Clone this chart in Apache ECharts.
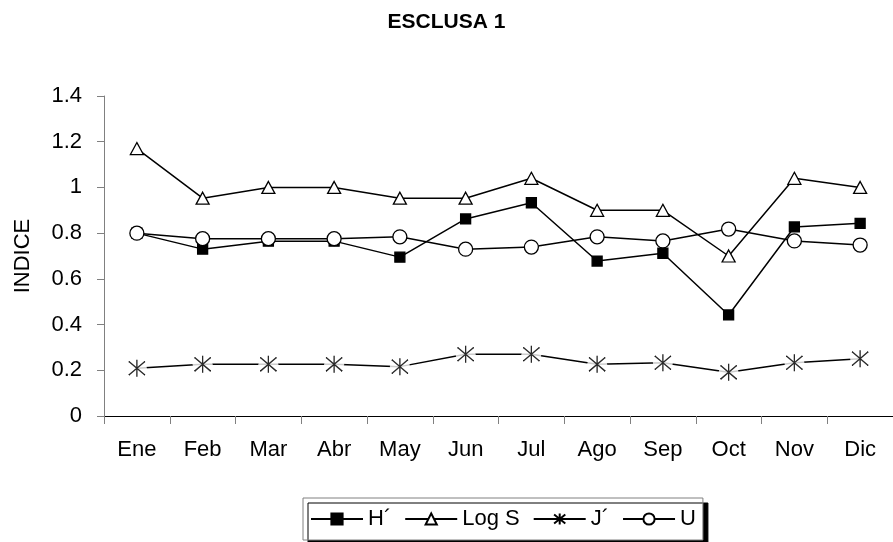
<!DOCTYPE html>
<html>
<head>
<meta charset="utf-8">
<script src="https://cdn.jsdelivr.net/npm/echarts@6/dist/echarts.min.js"></script>
<style>html,body{margin:0;padding:0;background:#fff}#c{width:893px;height:542px}</style>
</head>
<body>
<div id="c"></div>
<script>
var months = ['Ene','Feb','Mar','Abr','May','Jun','Jul','Ago','Sep','Oct','Nov','Dic'];
var hPrime = [0.80,0.73,0.765,0.765,0.695,0.862,0.933,0.678,0.712,0.442,0.827,0.843];
var logS   = [1.17,0.953,1.0,1.0,0.953,0.953,1.04,0.90,0.90,0.70,1.04,1.0];
var jPrime = [0.209,0.226,0.226,0.226,0.216,0.27,0.27,0.226,0.233,0.191,0.233,0.251];
var uIdx   = [0.80,0.776,0.776,0.776,0.784,0.73,0.739,0.784,0.766,0.818,0.766,0.748];
var yTicks = [0,0.2,0.4,0.6,0.8,1,1.2,1.4];

var FONT = '"Liberation Sans", Arial, sans-serif';
var STAR = 'path://M-1,-1L1,1M-1,1L1,-1M0,-1.25L0,1.25';
var chart = echarts.init(document.getElementById('c'), null, {renderer:'canvas'});
function mk(name, data, symbol, size, fill) {
  return {
    name: name, type: 'line', data: data,
    symbol: symbol, symbolSize: size,
    lineStyle: {color:'#000', width:1.5},
    itemStyle: {color: fill, borderColor:'#000', borderWidth:1.3},
    emphasis: {disabled:true},
    animation: false, z: 2
  };
}
chart.setOption({
  animation: false,
  title: {text:'ESCLUSA 1', left:'center', top:7,
    textStyle:{fontFamily:FONT, fontSize:21, fontWeight:'bold', color:'#000'}},
  grid: {left:104, top:96, bottom:126, right:-6, containLabel:false},
  legend: {
    left:303, top:498, padding:[10,7,10,7], itemGap:13,
    itemWidth:52, itemHeight:14,
    borderColor:'#808080', borderWidth:1, backgroundColor:'#fff',
    shadowColor:'#000', shadowOffsetX:5, shadowOffsetY:5, shadowBlur:0,
    textStyle:{fontFamily:FONT, fontSize:22, color:'#000'},
    data:['H´','Log S','J´','U']
  },
  xAxis: {
    type:'category', data: months, boundaryGap:true,
    axisLine:{lineStyle:{color:'#000', width:1}},
    axisTick:{show:true, length:8, lineStyle:{color:'#808080'}},
    axisLabel:{fontFamily:FONT, fontSize:22, color:'#000', margin:23},
    splitLine:{show:false}
  },
  yAxis: {
    type:'value', min:0, max:1.4, interval:0.2,
    name:'INDICE', nameLocation:'middle', nameGap:70, nameRotate:90,
    nameTextStyle:{fontFamily:FONT, fontSize:22, color:'#000'},
    axisLine:{show:true, lineStyle:{color:'#808080', width:1}},
    axisTick:{show:true, length:7, lineStyle:{color:'#808080'}},
    axisLabel:{fontFamily:FONT, fontSize:22, color:'#000', margin:22,
      formatter:function(v){ var t = yTicks.find(function(k){return Math.abs(k-v)<1e-9;}); return t===undefined? '' : String(t); }},
    splitLine:{show:false}
  },
  series: [
    mk('H´', hPrime, 'rect', 10, '#000'),
    mk('Log S', logS, 'triangle', [13,12], '#fff'),
    mk('J´', jPrime, STAR, [16,17], '#000'),
    {name:'J´ bg', type:'scatter', data:jPrime, symbol:'circle', symbolSize:20,
      itemStyle:{color:'#fff', borderWidth:0}, emphasis:{disabled:true}, silent:true, z:3},
    {name:'J´ mk', type:'scatter', data:jPrime, symbol:STAR, symbolSize:[16,17],
      itemStyle:{color:'#000', borderColor:'#000', borderWidth:1.3}, emphasis:{disabled:true}, silent:true, z:4},
    mk('U', uIdx, 'circle', 14, '#fff')
  ]
});
</script>
</body>
</html>
